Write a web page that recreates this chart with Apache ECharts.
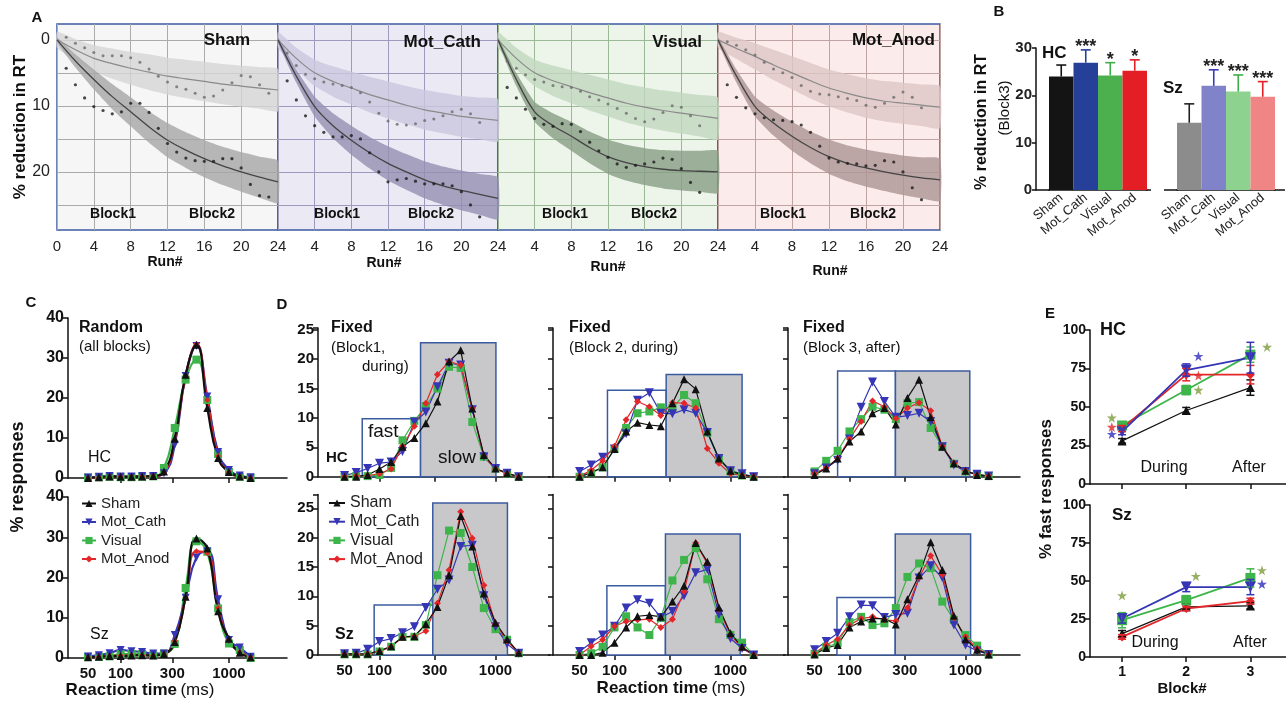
<!DOCTYPE html>
<html>
<head>
<meta charset="utf-8">
<script src="https://cdn.jsdelivr.net/npm/echarts@6/dist/echarts.min.js"></script>
<style>
html, body { margin: 0; padding: 0; background: #fff; }
#main { width: 1286px; height: 703px; }
</style>
</head>
<body>
<div id="main"></div>
<script>
var chartDom = document.getElementById('main');
var myChart = echarts.init(chartDom);
var FONT = 'Arial, "Liberation Sans", sans-serif';

// ---------- shared ----------
var groups = ['Sham', 'Mot_Cath', 'Visual', 'Mot_Anod'];
var groupColors = ['#111111', '#3535b5', '#3db54a', '#e3262a'];
var downTri = 'path://M0,0 L10,0 L5,9 Z';
var groupSymbols = ['triangle', downTri, 'rect', 'diamond'];

// ---------- A : % reduction in RT per run ----------
var fitRuns = [0, 2, 4, 6, 8, 10, 12, 14, 16, 18, 20, 22, 24];
var shamFitLight = [0, 1.5, 2.8, 3.6, 4.3, 4.9, 5.5, 5.9, 6.3, 6.7, 7.0, 7.3, 7.6];
var shamFitDark = [0, 3.2, 6.0, 8.6, 10.9, 13.2, 15.2, 16.7, 18.0, 19.1, 20.0, 20.8, 21.5];
var cathFitLight = [0, 2.8, 5.0, 6.3, 7.3, 8.3, 9.1, 9.9, 10.6, 11.1, 11.6, 11.9, 12.2];
var cathFitDark = [0, 5.5, 10.1, 13.0, 15.2, 17.1, 18.7, 20.0, 21.2, 22.1, 22.8, 23.4, 24.0];
var visFitLight = [0, 2.8, 5.0, 6.2, 7.1, 8.0, 8.8, 9.6, 10.2, 10.7, 11.1, 11.5, 11.9];
var visFitDark = [0, 6.0, 10.9, 13.0, 14.6, 16.3, 17.7, 18.6, 19.2, 19.6, 19.8, 19.9, 20.0];
var anodFitLight = [0, 1.3, 2.5, 3.8, 5.0, 6.2, 7.3, 8.1, 8.8, 9.3, 9.6, 9.9, 10.2];
var anodFitDark = [0, 5.5, 10.1, 12.6, 14.6, 16.3, 17.7, 18.7, 19.4, 20.0, 20.5, 20.9, 21.2];
var bandHalfLight = [1.2, 1.6, 2.0, 2.3, 2.5, 2.7, 2.8, 2.9, 3.0, 3.05, 3.1, 3.15, 3.2];
var bandHalfDark = [0.4, 1.0, 1.5, 1.9, 2.2, 2.4, 2.6, 2.7, 2.8, 2.9, 3.0, 3.1, 3.2];

var shamDotsLight = [-0.4, 0.5, 1.2, 1.9, 2.4, 2.4, 2.4, 2.7, 3.4, 4.4, 5.5, 6.4, 7.1, 7.5, 8.1, 8.7, 8.5, 7.6, 6.5, 5.4, 5.6, 6.8, 8.1];
var shamDotsDark = [4.3, 6.8, 8.8, 10.1, 10.7, 11.2, 10.9, 9.6, 9.6, 11.0, 13.4, 15.7, 17.0, 17.9, 18.3, 18.4, 18.4, 18.0, 18.0, 19.4, 21.9, 23.6, 23.8];
var cathDotsLight = [2.0, 3.9, 5.2, 5.9, 6.4, 6.7, 6.9, 7.2, 8.0, 9.4, 11.1, 12.3, 12.8, 12.9, 12.7, 12.2, 12.0, 11.5, 10.9, 10.5, 11.2, 12.5];
var cathDotsDark = [6.2, 9.1, 11.5, 13.0, 14.0, 14.7, 14.7, 14.5, 15.0, 17.1, 20.0, 21.5, 21.2, 21.0, 21.4, 21.8, 21.8, 21.8, 22.1, 23.0, 25.0, 26.8];
var visDotsLight = [3.2, 4.3, 5.3, 6.0, 6.4, 6.9, 7.1, 7.2, 7.8, 8.6, 9.1, 9.7, 10.4, 11.1, 11.9, 12.4, 12.0, 11.0, 10.0, 10.2, 11.5, 13.0];
var visDotsDark = [7.2, 8.8, 10.5, 11.9, 12.8, 13.1, 12.7, 12.8, 13.9, 15.5, 16.8, 17.8, 18.8, 19.3, 19.0, 18.8, 18.5, 17.9, 18.1, 19.5, 21.6, 23.1];
var anodDotsLight = [0.3, 0.8, 1.5, 2.3, 3.4, 4.4, 5.0, 5.7, 6.9, 7.8, 8.2, 8.3, 8.6, 8.9, 9.2, 9.9, 10.2, 9.6, 8.7, 7.9, 8.7, 10.3];
var anodDotsDark = [6.8, 8.7, 10.3, 11.2, 11.8, 12.1, 12.2, 12.4, 12.9, 14.0, 16.1, 17.9, 18.5, 18.7, 18.8, 19.1, 19.0, 18.3, 18.5, 20.0, 22.4, 24.2];
var aRules = [0, 5, 10, 15, 20, 25];

// ---------- B : block 3 reduction ----------
var hcBlock3 = [24.0, 26.9, 24.2, 25.2];
var hcBlock3Top = [26.4, 29.6, 26.9, 27.5];
var hcStars = ['', '***', '*', '*'];
var szBlock3 = [14.2, 22.0, 20.8, 19.7];
var szBlock3Top = [18.2, 25.4, 24.3, 22.9];
var szStars = ['', '***', '***', '***'];

// ---------- C / D : RT distributions ----------
var rtBins = [50, 63, 79, 100, 126, 158, 200, 251, 316, 398, 501, 631, 794, 1000, 1259, 1585];
var rtLabelValues = [50, 100, 300, 1000];
var rtTickValues = [100, 300, 1000];

var cHcSham = [0, 0.2, 0.4, 0.3, 0.3, 0.4, 0.5, 1.6, 9.8, 25.8, 33.3, 17.5, 5.0, 1.5, 0.4, 0];
var cHcCath = [0.1, 0.3, 0.5, 0.4, 0.4, 0.5, 0.5, 1.2, 8.3, 25.5, 33.0, 20.4, 6.5, 2.0, 0.6, 0.2];
var cHcVis = [0.1, 0.2, 0.3, 0.2, 0.2, 0.3, 0.4, 2.5, 12.5, 24.6, 29.6, 19.5, 6.0, 1.5, 0.3, 0];
var cHcAnod = [0, 0.1, 0.3, 0.3, 0.3, 0.4, 0.5, 1.4, 9.5, 25.5, 33.5, 19.5, 5.5, 1.5, 0.3, 0];
var cSzSham = [0.2, 0.3, 0.5, 0.5, 0.6, 0.7, 0.6, 1.0, 4.0, 15.2, 29.7, 27.2, 11.6, 4.8, 1.3, 0.2];
var cSzCath = [0.4, 0.7, 1.2, 2.0, 1.7, 1.5, 1.1, 1.1, 5.7, 15.0, 25.0, 26.5, 14.6, 4.5, 2.6, 0.3];
var cSzVis = [0.3, 0.3, 0.4, 1.0, 1.0, 1.0, 0.7, 1.1, 3.5, 17.4, 29.0, 26.4, 12.3, 3.6, 2.0, 0];
var cSzAnod = [0.2, 0.3, 0.5, 0.6, 0.7, 0.7, 0.6, 1.0, 4.2, 15.0, 26.5, 26.0, 12.5, 4.5, 1.5, 0.2];

var dHc1Sham = [0, 0, 0.3, 1.3, 2.5, 5.1, 6.6, 9.1, 12.8, 19.6, 21.5, 11.6, 3.7, 1.4, 0.6, 0];
var dHc1Cath = [0.2, 0.7, 1.4, 2.3, 2.5, 4.3, 9.3, 11.0, 15.3, 19.3, 19.0, 11.4, 3.4, 1.4, 0.6, 0];
var dHc1Vis = [0, 0.1, 0.1, 0.3, 1.5, 6.2, 9.5, 12.0, 15.0, 18.7, 18.5, 9.3, 3.4, 1.4, 0.5, 0];
var dHc1Anod = [0, 0.1, 0.2, 0.5, 1.3, 5.2, 8.6, 12.5, 17.4, 19.6, 19.0, 11.6, 3.5, 1.3, 0.5, 0];
var dSz1Sham = [0.2, 0.2, 0.2, 0.7, 1.5, 3.1, 3.2, 5.3, 8.2, 13.6, 23.7, 18.5, 10.5, 5.5, 2.7, 0.4];
var dSz1Cath = [0.2, 0.3, 1.0, 2.3, 2.8, 3.8, 4.8, 8.1, 11.2, 12.8, 18.5, 18.7, 10.1, 4.8, 1.9, 0.3];
var dSz1Vis = [0.1, 0.1, 0.1, 0.6, 1.4, 3.1, 3.1, 5.1, 13.6, 21.2, 20.8, 15.0, 8.0, 4.4, 2.6, 0.3];
var dSz1Anod = [0.1, 0.1, 0.2, 0.6, 1.4, 3.0, 3.2, 4.1, 8.8, 14.5, 24.4, 19.9, 11.9, 5.3, 2.4, 0.3];
var dHc2Sham = [0, 0.7, 1.6, 4.7, 7.7, 9.2, 8.8, 8.6, 12.5, 16.6, 14.9, 7.7, 3.1, 1.0, 0.3, 0];
var dHc2Cath = [0.9, 2.0, 3.3, 4.7, 7.3, 13.0, 14.3, 10.8, 10.7, 11.4, 10.8, 7.5, 3.1, 1.0, 0.5, 0];
var dHc2Vis = [0, 0.6, 1.6, 4.7, 8.3, 10.8, 11.1, 11.8, 11.7, 13.9, 12.5, 7.5, 2.9, 0.9, 0.2, 0];
var dHc2Anod = [0.1, 1.1, 2.7, 5.2, 9.7, 12.8, 11.9, 10.4, 12.6, 12.5, 11.7, 4.8, 2.3, 0.5, 0.2, 0];
var dSz2Sham = [0, 0, 0.4, 2.1, 4.7, 6.6, 6.8, 6.5, 9.1, 11.8, 19.1, 15.9, 8.1, 3.7, 1.4, 0];
var dSz2Cath = [0.6, 2.1, 3.4, 4.9, 8.0, 9.4, 8.8, 6.4, 7.4, 10.1, 14.0, 14.6, 6.9, 2.8, 1.1, 0];
var dSz2Vis = [0, 0.3, 1.4, 4.7, 6.6, 4.7, 3.4, 6.3, 12.7, 16.2, 18.2, 12.9, 6.1, 3.4, 2.1, 0];
var dSz2Anod = [0, 1.5, 2.6, 4.9, 5.7, 6.0, 6.1, 4.7, 6.1, 10.8, 19.1, 15.6, 7.8, 3.4, 1.2, 0];
var dHc3Sham = [0.3, 1.4, 3.1, 6.0, 7.7, 10.8, 11.7, 8.9, 13.4, 16.5, 10.1, 5.1, 2.3, 1.0, 0.3, 0.1];
var dHc3Cath = [0.5, 1.5, 2.8, 6.4, 11.8, 16.1, 12.8, 10.1, 10.4, 10.8, 9.4, 5.1, 2.0, 0.9, 0.4, 0.1];
var dHc3Vis = [0.9, 2.7, 4.4, 7.7, 9.8, 11.9, 11.4, 9.8, 12.5, 12.7, 8.3, 5.1, 2.2, 0.9, 0.4, 0.1];
var dHc3Anod = [0.5, 1.5, 3.1, 6.4, 9.4, 12.9, 11.9, 9.9, 11.7, 12.6, 11.2, 5.2, 2.3, 1.0, 0.3, 0.1];
var dSz3Sham = [0.1, 1.2, 1.7, 4.7, 5.7, 6.2, 6.2, 5.2, 9.5, 13.6, 19.2, 14.5, 6.7, 2.7, 0.9, 0.1];
var dSz3Cath = [0.9, 2.3, 3.7, 6.5, 8.5, 8.4, 6.4, 6.9, 7.1, 13.1, 15.2, 13.2, 5.1, 1.7, 0.7, 0.1];
var dSz3Vis = [0.2, 1.4, 2.0, 5.6, 6.5, 5.1, 5.4, 8.0, 13.3, 15.6, 14.8, 9.1, 6.0, 3.4, 1.6, 0.1];
var dSz3Anod = [0.3, 1.7, 2.7, 5.1, 6.2, 6.5, 6.0, 5.8, 8.0, 13.2, 16.9, 13.7, 6.3, 3.1, 1.1, 0.1];

// fast box [from ms, to ms, height], slow box [to ms, height]
var boxHc1 = [71, 226, 9.85, 1009, 22.8];
var boxHc2 = [87, 279, 14.7, 1259, 17.4];
var boxHc3 = [79, 249, 18.0, 1089, 18.0];
var boxSz1 = [90, 288, 8.5, 1268, 25.9];
var boxSz2 = [86, 275, 11.8, 1213, 20.6];
var boxSz3 = [78, 248, 9.8, 1107, 20.6];

// ---------- E : % fast responses ----------
var blocks = [1, 2, 3];
var eHcSham = [28, 47.7, 62.6], eHcShamErr = [1.5, 2, 5];
var eHcCath = [34, 74, 82], eHcCathErr = [2, 4, 10];
var eHcVis = [38, 61, 84], eHcVisErr = [2, 3, 5];
var eHcAnod = [36, 71, 71], eHcAnodErr = [2, 4, 6];
var eSzSham = [15.4, 33, 33.6], eSzShamErr = [2, 1.5, 2];
var eSzCath = [25.3, 46, 46], eSzCathErr = [3, 3, 5];
var eSzVis = [24.2, 37.4, 52], eSzVisErr = [5, 3, 6];
var eSzAnod = [13.2, 31.9, 36.7], eSzAnodErr = [1.5, 1.5, 2];
// significance stars [block pos, value, group index]
var eHcStarMarks = [[0.84, 43, 2], [0.84, 37, 3], [0.84, 32.4, 1], [2.19, 83, 1], [2.19, 70.4, 3], [2.19, 61, 2], [3.26, 89, 2]];
var eSzStarMarks = [[1.0, 40.5, 2], [2.15, 53.2, 2], [3.18, 57, 2], [3.18, 48, 1]];

// ================= build =================
var grids = [], xAxes = [], yAxes = [], series = [], graphics = [];

function addGrid(g, xa, ya) {
  g.outerBoundsMode = 'none';
  grids.push(g);
  var gi = grids.length - 1;
  xa.gridIndex = gi; ya.gridIndex = gi;
  xAxes.push(xa); yAxes.push(ya);
  return gi;
}

function txt(x, y, text, size, weight, align, rotate) {
  var el = {
    type: 'text', x: x, y: y, silent: true, z: 100,
    style: { text: text, fill: '#111', fontSize: size, fontWeight: weight || 'normal', fontFamily: FONT,
      align: align || 'left', verticalAlign: 'middle' }
  };
  if (rotate) el.rotation = Math.PI / 2;
  return el;
}

function hline(x1, x2, y) {
  return { type: 'line', silent: true, shape: { x1: x1, y1: y, x2: x2, y2: y }, style: { stroke: '#111', lineWidth: 1.5 } };
}

// ---- A ----
var aLight = [shamDotsLight, cathDotsLight, visDotsLight, anodDotsLight];
var aDark = [shamDotsDark, cathDotsDark, visDotsDark, anodDotsDark];
var aFitL = [shamFitLight, cathFitLight, visFitLight, anodFitLight];
var aFitD = [shamFitDark, cathFitDark, visFitDark, anodFitDark];
var aLeft = [57, 278, 498, 718];
var aWidth = [221, 220, 220, 222];
var aBack = ['#f6f6f6', '#ebeaf4', '#edf5eb', '#fbebeb'];
var aRule = ['#ababab', '#9e9abd', '#9bb897', '#c0a3a3'];
var aBandL = ['#d6d6d6', '#cac7de', '#c1d7be', '#dec6c6'];
var aBandD = ['#a6a6a6', '#938fb1', '#879e84', '#ac9494'];

// polygon between fit-half and fit+half, drawn once per band
function bandRender(fit, half, color) {
  return function (params, api) {
    if (params.dataIndex !== 0) return null;
    var pts = [];
    fitRuns.forEach(function (r, k) { pts.push(api.coord([r, fit[k] - half[k]])); });
    for (var k = fitRuns.length - 1; k >= 0; k--) pts.push(api.coord([fitRuns[k], fit[k] + half[k]]));
    return { type: 'polygon', shape: { points: pts, smooth: 0.15 }, style: { fill: color, opacity: 0.8 } };
  };
}

groups.forEach(function (nm, i) {
  var gi = addGrid(
    { left: aLeft[i], top: 24, width: aWidth[i], height: 206, show: true, backgroundColor: aBack[i], borderColor: '#3d5ba3', borderWidth: 1.5 },
    { type: 'value', min: 0, max: 24, interval: 4, axisLine: { show: false }, axisTick: { show: false },
      splitLine: { show: true, lineStyle: { color: aRule[i], width: 1 } },
      axisLabel: { fontSize: 15, color: '#222', fontFamily: FONT, margin: 9, showMinLabel: i === 0 } },
    { type: 'value', inverse: true, min: -2.4, max: 28.8, axisLine: { show: false }, axisTick: { show: false }, splitLine: { show: false },
      axisLabel: { show: i === 0, customValues: [0, 10, 20], fontSize: 16, color: '#222', fontFamily: FONT, margin: 7 } }
  );
  [[aFitL[i], bandHalfLight, aBandL[i]], [aFitD[i], bandHalfDark, aBandD[i]]].forEach(function (b) {
    series.push({ type: 'custom', xAxisIndex: gi, yAxisIndex: gi, silent: true, z: 2, encode: { x: 0, y: [1, 2] },
      renderItem: bandRender(b[0], b[1], b[2]),
      data: fitRuns.map(function (r, k) { return [r, b[0][k] - b[1][k], b[0][k] + b[1][k]]; }) });
  });
  series.push({ type: 'line', xAxisIndex: gi, yAxisIndex: gi, symbol: 'none', smooth: 0.3, silent: true, z: 3,
    lineStyle: { color: '#8a8a8a', width: 1.2 }, data: fitRuns.map(function (r, k) { return [r, aFitL[i][k]]; }) });
  series.push({ type: 'line', xAxisIndex: gi, yAxisIndex: gi, symbol: 'none', smooth: 0.3, silent: true, z: 3,
    lineStyle: { color: '#444', width: 1.3 }, data: fitRuns.map(function (r, k) { return [r, aFitD[i][k]]; }) });
  series.push({ type: 'scatter', xAxisIndex: gi, yAxisIndex: gi, symbolSize: 3, silent: true, z: 4, itemStyle: { color: '#6a6a6a' },
    data: aLight[i].map(function (v, k) { return [k + 1, v]; }),
    markLine: { silent: true, symbol: ['none', 'none'], z: 1, label: { show: false }, animation: false,
      lineStyle: { color: aRule[i], width: 1, type: 'solid' }, data: aRules.map(function (v) { return { yAxis: v }; }) } });
  series.push({ type: 'scatter', xAxisIndex: gi, yAxisIndex: gi, symbolSize: 3.2, silent: true, z: 4, itemStyle: { color: '#1a1a1a' },
    data: aDark[i].map(function (v, k) { return [k + 1, v]; }) });
});

graphics.push(txt(37, 18, 'A', 15, 'bold', 'center'));
graphics.push(txt(20, 127, '% reduction in RT', 17, 'bold', 'center', true));
graphics.push(txt(250, 40, 'Sham', 17, 'bold', 'right'));
graphics.push(txt(481, 42, 'Mot_Cath', 17, 'bold', 'right'));
graphics.push(txt(702, 42, 'Visual', 17, 'bold', 'right'));
graphics.push(txt(935, 40, 'Mot_Anod', 17, 'bold', 'right'));
[[113, 212], [337, 431], [565, 654], [783, 873]].forEach(function (p) {
  graphics.push(txt(p[0], 214, 'Block1', 14, 'bold', 'center'));
  graphics.push(txt(p[1], 214, 'Block2', 14, 'bold', 'center'));
});
[[165, 262], [384, 263], [608, 267], [830, 271]].forEach(function (p) {
  graphics.push(txt(p[0], p[1], 'Run#', 14, 'bold', 'center'));
});

// ---- B ----
var hcBarColors = ['#141414', '#26409a', '#4cb04f', '#e31e24'];
var szBarColors = ['#8c8c8c', '#8083c9', '#8ed28f', '#ef8585'];
var hcErrColors = ['#141414', '#26409a', '#3fae4a', '#e31e24'];
var szErrColors = ['#222222', '#3a3ab8', '#3fae4a', '#e31e24'];

function barErr(stars, colors) {
  return function (params, api) {
    var i = params.dataIndex;
    var base = api.coord([i, api.value(1)]);
    var top = api.coord([i, api.value(2)]);
    var c = colors[i];
    var kids = [
      { type: 'line', shape: { x1: base[0], y1: base[1], x2: top[0], y2: top[1] }, style: { stroke: c, lineWidth: 1.6 } },
      { type: 'line', shape: { x1: top[0] - 5, y1: top[1], x2: top[0] + 5, y2: top[1] }, style: { stroke: c, lineWidth: 1.6 } }
    ];
    if (stars[i]) {
      kids.push({ type: 'text', x: top[0], y: top[1] - 3,
        style: { text: stars[i], fill: '#222', fontSize: 18, fontWeight: 'bold', fontFamily: FONT, align: 'center', verticalAlign: 'middle' } });
    }
    return { type: 'group', children: kids };
  };
}

[[1049, hcBlock3, hcBlock3Top, hcStars, hcBarColors, hcErrColors, true],
 [1177, szBlock3, szBlock3Top, szStars, szBarColors, szErrColors, false]].forEach(function (b) {
  var gi = addGrid(
    { left: b[0], top: 48, width: 98, height: 142 },
    { type: 'category', data: groups, boundaryGap: true,
      axisLine: { show: true, lineStyle: { color: '#111', width: 1.5 } }, axisTick: { show: false },
      axisLabel: { rotate: 40, interval: 0, fontSize: 13, color: '#222', fontFamily: FONT, margin: 6 } },
    { type: 'value', min: 0, max: 30, interval: 10, show: b[6], offset: 13,
      axisLine: { show: true, lineStyle: { color: '#111', width: 1.5 } },
      axisTick: { show: true, length: 4, lineStyle: { color: '#111', width: 1.5 } }, splitLine: { show: false },
      axisLabel: { fontSize: 15, fontWeight: 'bold', color: '#222', fontFamily: FONT, margin: 4 } }
  );
  series.push({ type: 'bar', xAxisIndex: gi, yAxisIndex: gi, barWidth: 24.5, barGap: '0%', silent: true,
    data: b[1].map(function (v, k) { return { value: v, itemStyle: { color: b[4][k] } }; }) });
  series.push({ type: 'custom', xAxisIndex: gi, yAxisIndex: gi, silent: true, z: 4,
    encode: { x: 0, y: [1, 2] }, renderItem: barErr(b[3], b[5]),
    data: b[1].map(function (v, k) { return [k, v, b[2][k]]; }) });
});
graphics.push(hline(1036, 1050, 190), hline(1146, 1151, 190), hline(1164, 1178, 190), hline(1274, 1285, 190));
graphics.push(txt(999, 12, 'B', 15, 'bold', 'center'));
graphics.push(txt(982, 122, '% reduction in RT', 16, 'bold', 'center', true));
graphics.push(txt(1005, 108, '(Block3)', 15, 'normal', 'center', true));
graphics.push(txt(1042, 53, 'HC', 17, 'bold'));
graphics.push(txt(1163, 88, 'Sz', 17, 'bold'));

// ---- C / D ----
var lg = function (v) { return Math.log10(v); };
function rtXAxis(showLabels, min, max) {
  return { type: 'value', min: min, max: max,
    axisLine: { show: true, onZero: false, lineStyle: { color: '#111', width: 1.5 } },
    axisTick: { show: true, length: 5, customValues: rtTickValues.map(lg), lineStyle: { color: '#111', width: 1.5 } },
    axisLabel: { show: showLabels, customValues: rtLabelValues.map(lg),
      formatter: function (v) { return String(Math.round(Math.pow(10, v))); },
      fontSize: 15, fontWeight: 'bold', color: '#111', fontFamily: FONT, margin: 8 },
    splitLine: { show: false } };
}
function countYAxis(max, interval, showLabels, size) {
  return { type: 'value', min: 0, max: max, interval: interval,
    axisLine: { show: true, onZero: false, lineStyle: { color: '#111', width: 1.5 } },
    axisTick: { show: true, length: 5, lineStyle: { color: '#111', width: 1.5 } },
    axisLabel: { show: showLabels, fontSize: size, fontWeight: 'bold', color: '#111', fontFamily: FONT, margin: 4,
      formatter: function (v) { return v % interval === 0 ? String(v) : ''; } },
    splitLine: { show: false } };
}
var drawOrder = [2, 1, 3, 0];
function rtLines(gi, sets, width, smooth, sizes, box) {
  drawOrder.forEach(function (k, n) {
    var s = { name: groups[k], type: 'line', xAxisIndex: gi, yAxisIndex: gi, smooth: smooth, silent: true,
      symbol: groupSymbols[k], symbolSize: sizes[k], showAllSymbol: true, z: 3,
      itemStyle: { color: groupColors[k] }, lineStyle: { color: groupColors[k], width: width },
      data: sets[k].map(function (v, j) { return [lg(rtBins[j]), v]; }) };
    if (box && n === 0) {
      s.markArea = { silent: true, label: { show: false }, data: [
        [{ xAxis: lg(box[0]), yAxis: 0, itemStyle: { color: '#ffffff', borderColor: '#3b5ba0', borderWidth: 1.5 } }, { xAxis: lg(box[1]), yAxis: box[2] }],
        [{ xAxis: lg(box[1]), yAxis: 0, itemStyle: { color: '#c8c8ca', borderColor: '#3b5ba0', borderWidth: 1.5 } }, { xAxis: lg(box[3]), yAxis: box[4] }]
      ] };
    }
    series.push(s);
  });
}

var cSizes = [8, 8, 8, 6];
var giC1 = addGrid({ left: 68, top: 318, width: 219, height: 160 }, rtXAxis(false, 1.514, 3.536), countYAxis(40, 10, true, 16));
rtLines(giC1, [cHcSham, cHcCath, cHcVis, cHcAnod], 2.2, true, cSizes);
var giC2 = addGrid({ left: 68, top: 497, width: 219, height: 161 }, rtXAxis(true, 1.514, 3.536), countYAxis(40, 10, true, 16));
rtLines(giC2, [cSzSham, cSzCath, cSzVis, cSzAnod], 2.2, true, cSizes);

var dSizes = [8, 9, 8, 7];
var dLefts = [318, 553, 788];
var dTopSets = [[dHc1Sham, dHc1Cath, dHc1Vis, dHc1Anod], [dHc2Sham, dHc2Cath, dHc2Vis, dHc2Anod], [dHc3Sham, dHc3Cath, dHc3Vis, dHc3Anod]];
var dBotSets = [[dSz1Sham, dSz1Cath, dSz1Vis, dSz1Anod], [dSz2Sham, dSz2Cath, dSz2Vis, dSz2Anod], [dSz3Sham, dSz3Cath, dSz3Vis, dSz3Anod]];
var dTopBoxes = [boxHc1, boxHc2, boxHc3];
var dBotBoxes = [boxSz1, boxSz2, boxSz3];
dLefts.forEach(function (left, c) {
  var gt = addGrid({ left: left, top: 328, width: 232, height: 148.7 }, rtXAxis(false, 1.47, 3.47), countYAxis(25.3, 5, c === 0, 15));
  rtLines(gt, dTopSets[c], 1.2, false, dSizes, dTopBoxes[c]);
});
dLefts.forEach(function (left, c) {
  var gb = addGrid({ left: left, top: 494.5, width: 232, height: 160.5 }, rtXAxis(true, 1.47, 3.47), countYAxis(27.35, 5, c === 0, 15));
  rtLines(gb, dBotSets[c], 1.2, false, dSizes, dBotBoxes[c]);
});

function rtTitle(x, y, text) {
  return { type: 'text', x: x, y: y, silent: true, z: 100, style: {
    text: '{b|' + text + '} {n|(ms)}', align: 'center', verticalAlign: 'middle',
    rich: { b: { fontSize: 17, fontWeight: 'bold', fontFamily: FONT, fill: '#111' },
            n: { fontSize: 17, fontFamily: FONT, fill: '#111' } } } };
}
graphics.push(txt(31, 303, 'C', 15, 'bold', 'center'));
graphics.push(txt(18, 477, '% responses', 18, 'bold', 'center', true));
graphics.push(txt(79, 328, 'Random', 16, 'bold'));
graphics.push(txt(79, 347, '(all blocks)', 15));
graphics.push(txt(88, 458, 'HC', 16));
graphics.push(txt(90, 635, 'Sz', 16));
graphics.push(rtTitle(140, 690, 'Reaction time'));
graphics.push(rtTitle(671, 688, 'Reaction time'));

graphics.push(txt(282, 305, 'D', 15, 'bold', 'center'));
graphics.push(txt(331, 328, 'Fixed', 16, 'bold'));
graphics.push(txt(331, 348, '(Block1,', 15));
graphics.push(txt(362, 367, 'during)', 15));
graphics.push(txt(326, 458, 'HC', 15, 'bold'));
graphics.push(txt(368, 432, 'fast', 19));
graphics.push(txt(438, 458, 'slow', 19));
graphics.push(txt(335, 635, 'Sz', 16, 'bold'));
graphics.push(txt(569, 328, 'Fixed', 16, 'bold'));
graphics.push(txt(569, 348, '(Block 2, during)', 15));
graphics.push(txt(803, 328, 'Fixed', 16, 'bold'));
graphics.push(txt(803, 348, '(Block 3, after)', 15));

// ---- E ----
function eXAxis(showLabels) {
  return { type: 'value', min: 0.5, max: 3.555,
    axisLine: { show: true, onZero: false, lineStyle: { color: '#111', width: 1.5 } },
    axisTick: { show: true, length: 5, customValues: blocks, lineStyle: { color: '#111', width: 1.5 } },
    axisLabel: { show: showLabels, customValues: blocks, fontSize: 14, fontWeight: 'bold', color: '#111', fontFamily: FONT, margin: 8 },
    splitLine: { show: false } };
}
function errRender(params, api) {
  var x = api.value(0), y = api.value(1), e = api.value(2);
  var c = groupColors[api.value(3)];
  var p1 = api.coord([x, y - e]), p2 = api.coord([x, y + e]);
  var st = { stroke: c, lineWidth: 1.5 };
  return { type: 'group', children: [
    { type: 'line', shape: { x1: p1[0], y1: p1[1], x2: p2[0], y2: p2[1] }, style: st },
    { type: 'line', shape: { x1: p1[0] - 4, y1: p1[1], x2: p1[0] + 4, y2: p1[1] }, style: st },
    { type: 'line', shape: { x1: p2[0] - 4, y1: p2[1], x2: p2[0] + 4, y2: p2[1] }, style: st }
  ] };
}
var starPath = 'path://M50,0 L61.8,35.1 L98.8,35.1 L68.9,57 L80.2,92.1 L50,70.6 L19.8,92.1 L31.1,57 L1.2,35.1 L38.2,35.1 Z';
var starColors = ['#111111', '#2f2fbf', '#7d9c3c', '#e0282a'];
var eSizes = [9, 11, 10, 9];

[[330, 154, [eHcSham, eHcCath, eHcVis, eHcAnod], [eHcShamErr, eHcCathErr, eHcVisErr, eHcAnodErr], eHcStarMarks, false],
 [505, 152, [eSzSham, eSzCath, eSzVis, eSzAnod], [eSzShamErr, eSzCathErr, eSzVisErr, eSzAnodErr], eSzStarMarks, true]].forEach(function (p) {
  var gi = addGrid({ left: 1090, top: p[0], width: 196, height: p[1] }, eXAxis(p[5]), countYAxis(100, 25, true, 14));
  var errData = [];
  [0, 2, 3, 1].forEach(function (k) {
    series.push({ name: groups[k], type: 'line', xAxisIndex: gi, yAxisIndex: gi, silent: true, z: 3,
      symbol: groupSymbols[k], symbolSize: eSizes[k],
      itemStyle: { color: groupColors[k] }, lineStyle: { color: groupColors[k], width: k === 0 ? 1.2 : 1.8 },
      data: p[2][k].map(function (v, j) { return [blocks[j], v]; }) });
    p[2][k].forEach(function (v, j) { errData.push([blocks[j], v, p[3][k][j], k]); });
  });
  series.push({ type: 'custom', xAxisIndex: gi, yAxisIndex: gi, silent: true, z: 4, encode: { x: 0, y: 1 },
    renderItem: errRender, data: errData });
  series.push({ type: 'scatter', xAxisIndex: gi, yAxisIndex: gi, silent: true, z: 5, symbol: starPath, symbolSize: 10,
    data: p[4].map(function (s) { return { value: [s[0], s[1]], itemStyle: { color: starColors[s[2]] } }; }) });
});
graphics.push(txt(1050, 314, 'E', 15, 'bold', 'center'));
graphics.push(txt(1046, 489, '% fast responses', 17, 'bold', 'center', true));
graphics.push(txt(1100, 330, 'HC', 18, 'bold'));
graphics.push(txt(1112, 515, 'Sz', 17, 'bold'));
graphics.push(txt(1164, 468, 'During', 16, 'normal', 'center'));
graphics.push(txt(1249, 468, 'After', 16, 'normal', 'center'));
graphics.push(txt(1155, 643, 'During', 16, 'normal', 'center'));
graphics.push(txt(1250, 643, 'After', 16, 'normal', 'center'));
graphics.push(txt(1182, 689, 'Block#', 15, 'bold', 'center'));

var option = {
  animation: false,
  backgroundColor: '#ffffff',
  textStyle: { fontFamily: FONT },
  grid: grids,
  xAxis: xAxes,
  yAxis: yAxes,
  legend: [
    { data: groups, orient: 'vertical', left: 76, top: 491, itemGap: 3.5, itemWidth: 14, itemHeight: 9, selectedMode: false,
      textStyle: { fontSize: 15, color: '#222', fontFamily: FONT } },
    { data: groups, orient: 'vertical', left: 323, top: 490, itemGap: 2.7, itemWidth: 16, itemHeight: 9, selectedMode: false,
      textStyle: { fontSize: 16, color: '#222', fontFamily: FONT } }
  ],
  series: series,
  graphic: graphics
};

option && myChart.setOption(option);
</script>
</body>
</html>
